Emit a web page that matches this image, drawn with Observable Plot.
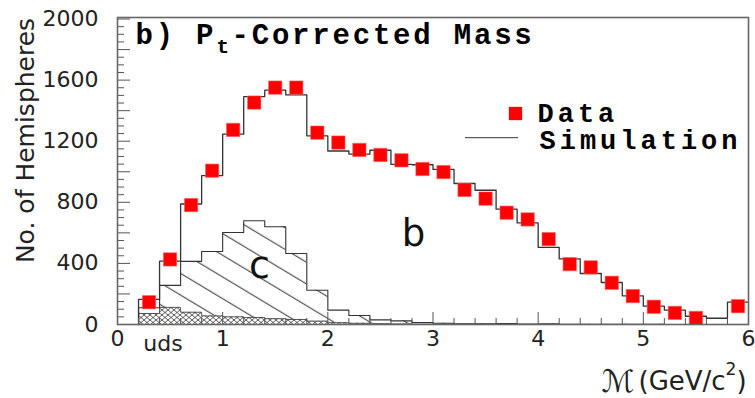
<!DOCTYPE html>
<html>
<head>
<meta charset="utf-8">
<script src="https://cdn.jsdelivr.net/npm/d3@7"></script>
<script src="https://cdn.jsdelivr.net/npm/@observablehq/plot@0.6"></script>
<style>
  html, body { margin: 0; padding: 0; background: #fff; }
  #chart svg { display: block; }
</style>
</head>
<body>
<div id="chart"></div>
<script>
// Histogram bin edges in GeV/c^2 (29 bins of 0.2)
const binEdges = [0.2,0.4,0.6,0.8,1.0,1.2,1.4,1.6,1.8,2.0,2.2,2.4,2.6,2.8,3.0,
                  3.2,3.4,3.6,3.8,4.0,4.2,4.4,4.6,4.8,5.0,5.2,5.4,5.6,5.8,6.0];

// Measured hemispheres, plotted at bin centres
const dataCenters = [0.3,0.5,0.7,0.9,1.1,1.3,1.5,1.7,1.9,2.1,2.3,2.5,2.7,2.9,3.1,
                     3.3,3.5,3.7,3.9,4.1,4.3,4.5,4.7,4.9,5.1,5.3,5.5,5.7,5.9];
const dataCounts = [146,426,782,1007,1274,1453,1551,1551,1256,1191,1143,1110,1075,1018,998,
                    881,824,732,688,559,395,374,273,186,116,76,43,null,120];

// Simulation, stacked: total (b + c + uds), c + uds, and uds alone
const simTotal = [164,415,789,975,1246,1492,1534,1503,1235,1136,1116,1141,1049,1046,1015,
                  923,879,755,665,505,430,334,275,188,120,94,54,41,146];
const simCharm = [110,256,413,478,602,679,640,465,224,94,59,30,24,13,8,
                  5,4,6,3,5,2,2,1,1,1,0,0,0,0];
const simUds   = [72,112,80,56,50,46,38,33,22,12,8,5,3,2,1,
                  1,1,1,0,0,0,0,0,0,0,0,0,0,0];

const xTickLabels = [0,1,2,3,4,5,6];
const yTickLabels = [0,400,800,1200,1600,2000];

const W = 755, H = 398;
const mL = 117, mR = 7, mT = 17, mB = 74;
const plotW = W - mL - mR, plotH = H - mT - mB;

// rows for a step histogram: left edge of each bin, plus closing right edge
function stepRows(values) {
  const rows = values.map((v, i) => ({x: binEdges[i], y: v}));
  rows.push({x: binEdges[values.length], y: values[values.length - 1]});
  return rows;
}
function outlineRows(values) {
  return [{x: binEdges[0], y: 0}, ...stepRows(values)];
}

const xMinor = d3.range(1, 30).map(i => i / 5).filter(v => !Number.isInteger(v));
const xMajor = [1,2,3,4,5];
const yMinor = d3.range(50, 2001, 50).filter(v => v % 200 !== 0);
const yMajor = d3.range(200, 2001, 200);

// annotation placed in pixel space relative to the top-left of the frame
function note(str, px, py, opts) {
  return Plot.text([str], {
    text: d => d, frameAnchor: "top-left", dx: px - mL, dy: py - mT,
    lineAnchor: "bottom", textAnchor: "start", ...opts
  });
}

const mono = "'Liberation Mono', 'DejaVu Sans Mono', monospace";
const sans = "'DejaVu Sans', 'Liberation Sans', sans-serif";
const monoBold = {fontFamily: mono, fontWeight: "bold", fontSize: 29, fill: "#000"};

const chart = Plot.plot({
  width: W, height: H,
  marginLeft: mL, marginRight: mR, marginTop: mT, marginBottom: mB,
  style: `font-family: ${sans}; font-size: 22px; color: #222; background: #fff;`,
  x: {domain: [0, 6]},
  y: {domain: [0, 2010]},
  marks: [
    // c + uds region, hatched
    Plot.areaY(stepRows(simCharm), {x: "x", y: "y", curve: "step-after", fill: "url(#hatchC)"}),
    // uds region, cross-hatched
    Plot.areaY(stepRows(simUds), {x: "x", y: "y", curve: "step-after", fill: "url(#hatchUds)"}),
    Plot.line(outlineRows(simUds), {x: "x", y: "y", curve: "step-after", stroke: "#444", strokeWidth: 0.9}),
    Plot.line(outlineRows(simCharm), {x: "x", y: "y", curve: "step-after", stroke: "#333", strokeWidth: 1.1}),
    Plot.line(outlineRows(simTotal), {x: "x", y: "y", curve: "step-after", stroke: "#333", strokeWidth: 1.3}),
    // data points
    Plot.dot(dataCenters.map((x, i) => ({x, y: dataCounts[i]})).filter(d => d.y != null),
      {x: "x", y: "y", symbol: "square", r: 7.5, fill: "#ff0000", stroke: "#ff5a5a", strokeWidth: 0.6}),
    // inward tick marks
    Plot.ruleX(xMinor, {x: d => d, insetTop: plotH - 6, stroke: "#555", strokeWidth: 1}),
    Plot.ruleX(xMajor, {x: d => d, insetTop: plotH - 12, stroke: "#555", strokeWidth: 1}),
    Plot.ruleY(yMinor, {y: d => d, insetRight: plotW - 7, stroke: "#555", strokeWidth: 1}),
    Plot.ruleY(yMajor, {y: d => d, insetRight: plotW - 13, stroke: "#555", strokeWidth: 1}),
    Plot.frame({stroke: "#666", strokeWidth: 1.6}),
    Plot.axisX(xTickLabels, {tickSize: 0, tickPadding: 6, label: null, fill: "#222", tickFormat: d => String(d)}),
    Plot.axisY(yTickLabels, {tickSize: 0, tickPadding: 19, label: null, fill: "#222", tickFormat: d => String(d)}),
    // titles and labels
    note("b) P", 135, 43, monoBold),
    note("t", 216, 52, {...monoBold, fontSize: 21}),
    note("-Corrected Mass", 231, 43, monoBold),
    // legend
    Plot.dot([0], {frameAnchor: "top-left", dx: 515 - mL, dy: 113 - mT, symbol: "square", r: 7.5, fill: "#ff0000"}),
    note("Data", 537, 121, {...monoBold, fontSize: 27}),
    note("Simulation", 539, 148, {...monoBold, fontSize: 27}),
    note("b", 413, 245, {fontFamily: sans, fontSize: 37, textAnchor: "middle", fill: "#111"}),
    note("c", 259, 277, {fontFamily: sans, fontSize: 38, textAnchor: "middle", fill: "#111"}),
    note("uds", 162.5, 350, {fontFamily: sans, fontSize: 22, textAnchor: "middle", fill: "#222"}),
    note("\u2133", 601, 391, {fontFamily: sans, fontSize: 31, fill: "#222"}),
    note("(GeV/c", 638, 389, {fontFamily: sans, fontSize: 26, fill: "#222"}),
    note("2", 725, 374, {fontFamily: sans, fontSize: 17, fill: "#222"}),
    note(")", 736, 389, {fontFamily: sans, fontSize: 26, fill: "#222"}),
    Plot.text(["No. of Hemispheres"], {text: d => d, frameAnchor: "top-left", dx: 25 - mL, dy: 140 - mT,
      rotate: -90, textAnchor: "middle", lineAnchor: "middle", fontFamily: sans, fontSize: 25, fill: "#222"})
  ]
});

const svg = d3.select(chart);

// widen the monospace labels to a Courier-like advance (about 20px per character)
svg.selectAll("g[font-family]")
  .filter(function() { return this.getAttribute("font-family").includes("Liberation Mono"); })
  .each(function() {
    const fs = parseFloat(this.getAttribute("font-size")) || 29;
    d3.select(this).attr("letter-spacing", fs >= 25 ? (20.2 - 0.6 * fs).toFixed(2) : 3);
  });

// fill patterns for the stacked simulation components
const defs = svg.insert("defs", ":first-child");
const pc = defs.append("pattern").attr("id", "hatchC").attr("patternUnits", "userSpaceOnUse")
  .attr("width", 12).attr("height", 18.6).attr("patternTransform", "rotate(31)");
pc.append("rect").attr("width", 12).attr("height", 18.6).attr("fill", "#fff");
pc.append("line").attr("x1", 0).attr("x2", 12).attr("y1", 11.1).attr("y2", 11.1)
  .attr("stroke", "#333").attr("stroke-width", 1);
const pu = defs.append("pattern").attr("id", "hatchUds").attr("patternUnits", "userSpaceOnUse")
  .attr("width", 6).attr("height", 5);
pu.append("rect").attr("width", 6).attr("height", 5).attr("fill", "#fff");
pu.append("path").attr("d", "M-1,-0.83L7,5.83M-1,5.83L7,-0.83")
  .attr("stroke", "#333").attr("stroke-width", 0.8).attr("fill", "none");

// legend sample line for the simulation
svg.append("line").attr("x1", 465).attr("x2", 518).attr("y1", 137.7).attr("y2", 137.7)
  .attr("stroke", "#333").attr("stroke-width", 1);

document.getElementById("chart").appendChild(chart);
</script>
</body>
</html>
